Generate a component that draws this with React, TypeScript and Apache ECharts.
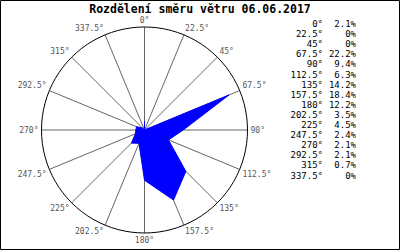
import React, { useEffect, useRef } from "react";
import * as echarts from "echarts";

const directions = [0, 22.5, 45, 67.5, 90, 112.5, 135, 157.5, 180, 202.5, 225, 247.5, 270, 292.5, 315, 337.5];
const percents = [2.1, 0, 0, 22.2, 9.4, 6.3, 14.2, 18.4, 12.2, 3.5, 4.5, 2.4, 2.1, 2.1, 0.7, 0];
const titleText = "Rozdělení směru větru 06.06.2017";
const radiusMax = 25;

const fmtPct = (v: number) => (v === 0 ? "0%" : v.toFixed(1) + "%");

export default function App() {
  const ref = useRef<HTMLDivElement>(null);
  useEffect(() => {
    document.body.style.margin = "0";
    if (!ref.current) return;
    const chart = echarts.init(ref.current, null, { renderer: "svg" });
    const data = directions.map((d, i) => [percents[i], d]);
    data.push([percents[0], 360]);
    const legendEls: any[] = [];
    directions.forEach((d, i) => {
      const y = 24 + i * 10.1;
      legendEls.push({
        type: "text",
        x: 323,
        y,
        style: {
          text: d + "°",
          font: "9px 'DejaVu Sans Mono'",
          fill: "#000",
          textAlign: "right",
          textVerticalAlign: "middle",
        },
      });
      legendEls.push({
        type: "text",
        x: 356,
        y,
        style: {
          text: fmtPct(percents[i]),
          font: "9px 'DejaVu Sans Mono'",
          fill: "#000",
          textAlign: "right",
          textVerticalAlign: "middle",
        },
      });
    });
    chart.setOption({
      animation: false,
      backgroundColor: "#fff",
      title: {
        text: titleText,
        left: "center",
        top: 2,
        padding: 0,
        textStyle: {
          fontFamily: "DejaVu Sans Mono",
          fontWeight: "bold",
          fontSize: 11.5,
          lineHeight: 13,
          color: "#000",
        },
      },
      polar: { center: [144.5, 130], radius: 103 },
      angleAxis: {
        type: "value",
        min: 0,
        max: 360,
        interval: 22.5,
        startAngle: 90,
        clockwise: true,
        axisLine: { show: true, lineStyle: { color: "#000", width: 1 } },
        axisTick: { show: false },
        axisLabel: {
          margin: 3,
          fontFamily: "DejaVu Sans Mono",
          fontSize: 8,
          color: "#555",
          formatter: (v: number) => (v >= 360 ? "" : v + "°"),
        },
        splitLine: { show: true, lineStyle: { color: "#666", width: 1 } },
      },
      radiusAxis: {
        type: "value",
        min: 0,
        max: radiusMax,
        axisLine: { show: false },
        axisTick: { show: false },
        axisLabel: { show: false },
        splitLine: { show: false },
      },
      series: [
        {
          type: "line",
          coordinateSystem: "polar",
          data,
          symbol: "none",
          lineStyle: { color: "#0000ff", width: 1 },
          areaStyle: { color: "#0000ff", opacity: 1 },
          z: 3,
        },
      ],
      graphic: [
        {
          type: "rect",
          shape: { x: 0.5, y: 0.5, width: 399, height: 249 },
          style: { fill: "none", stroke: "#000", lineWidth: 1 },
        },
        ...legendEls,
      ],
    });
    return () => chart.dispose();
  }, []);
  return <div ref={ref} style={{ width: 400, height: 250 }} />;
}
